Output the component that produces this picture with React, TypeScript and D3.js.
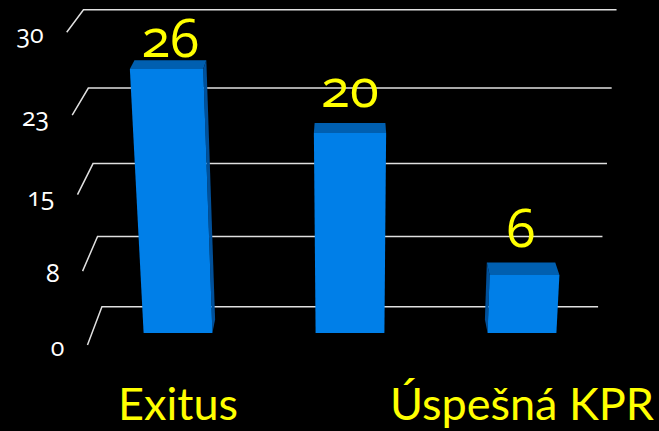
import { useEffect } from "react";
import * as d3 from "d3";

const WIDTH = 659;
const HEIGHT = 431;

const categories = ["Exitus", "", "Úspešná KPR"];
const values = [26, 20, 6];
const tickValues = [0, 7.5, 15, 22.5, 30];
const tickLabels = ["0", "8", "15", "23", "30"];

// perspective camera, tuned to the reference
const CAM_X = 350;
const FLOOR_Y = 333;
const DEPTH_K = 0.02; // denominator change per depth unit
const DEPTH_M = -7; // vertical shift per depth unit
const LIFT_K = 0.0002326; // denominator change per pixel of height
const WALL_Z = 2;
const SIDE_FRONT_Z = -0.86;
const BAR_DEPTH = 1;

const BAR_FRONT = "#007fe8";
const BAR_TOP = "#005fb0";
const BAR_SIDE = "#00509a";
const GRID = "#e0e0e0";
const YELLOW = "#ffff00";

const xScale = d3
  .scaleBand<string>()
  .domain(categories)
  .range([-258, 258])
  .paddingInner(0.6)
  .paddingOuter(0.3);

const yScale = d3.scaleLinear().domain([0, 30]).range([0, 309.6]);

const project = (x: number, v: number, z: number): [number, number] => {
  const lift = yScale(v);
  const d = 1 + DEPTH_K * z - lift * LIFT_K;
  return [CAM_X + x / d, (FLOOR_Y + DEPTH_M * z - lift) / d];
};

const poly = (pts: [number, number][]) =>
  pts.map((p) => `${p[0].toFixed(2)},${p[1].toFixed(2)}`).join(" ");

export default function App() {
  useEffect(() => {
    document.body.style.margin = "0";
    document.body.style.background = "#000";
  }, []);

  const [left, right] = xScale.range();
  const bw = xScale.bandwidth();

  return (
    <svg
      width={WIDTH}
      height={HEIGHT}
      style={{ display: "block", position: "absolute", left: 0, top: 0 }}
    >
      <rect width={WIDTH} height={HEIGHT} fill="#000" />

      {/* gridlines: side wall + back wall */}
      {tickValues.map((t, i) => {
        const a = project(left, t, SIDE_FRONT_Z);
        const b = project(left, t, WALL_Z);
        const c = project(right, t, WALL_Z);
        return (
          <polyline
            key={i}
            points={poly([a, b, c])}
            fill="none"
            stroke={GRID}
            strokeWidth={1.5}
          />
        );
      })}

      {/* tick labels */}
      {tickValues.map((t, i) => {
        const [x, y] = project(left, t, SIDE_FRONT_Z);
        return (
          <text
            key={i}
            x={x - 23}
            y={y + 11}
            textAnchor="end"
            fill="#fff"
            fontSize={25}
            fontFamily="'Open Sans', sans-serif"
            style={{ fontVariantNumeric: "oldstyle-nums" }}
          >
            {tickLabels[i]}
          </text>
        );
      })}

      {/* bars */}
      {categories.map((cat, i) => {
        const v = values[i];
        const x0 = xScale(cat) ?? 0;
        const x1 = x0 + bw;
        const front = [
          project(x0, 0, 0),
          project(x1, 0, 0),
          project(x1, v, 0),
          project(x0, v, 0),
        ];
        const top = [
          project(x0, v, 0),
          project(x1, v, 0),
          project(x1, v, BAR_DEPTH),
          project(x0, v, BAR_DEPTH),
        ];
        const sx = x1 < 0 ? x1 : x0 > 0 ? x0 : null;
        const side =
          sx === null
            ? null
            : [
                project(sx, 0, 0),
                project(sx, 0, BAR_DEPTH),
                project(sx, v, BAR_DEPTH),
                project(sx, v, 0),
              ];
        const [lx, ly] = project(x0 + bw / 2, v, BAR_DEPTH);
        return (
          <g key={i}>
            {side && <polygon points={poly(side)} fill={BAR_SIDE} />}
            <polygon points={poly(top)} fill={BAR_TOP} />
            <polygon points={poly(front)} fill={BAR_FRONT} />
            <text
              x={lx}
              y={Math.max(ly - 16, 57)}
              textAnchor="middle"
              fill={YELLOW}
              fontSize={53}
              fontFamily="'Open Sans', sans-serif"
              style={{ fontVariantNumeric: "oldstyle-nums" }}
            >
              {v}
            </text>
          </g>
        );
      })}

      {/* category labels */}
      {categories.map((cat, i) => {
        const [x] = project((xScale(cat) ?? 0) + bw / 2, 0, 0);
        return (
          <text
            key={i}
            x={x}
            y={420}
            textAnchor="middle"
            fill={YELLOW}
            fontSize={45}
            fontFamily="Lato, sans-serif"
          >
            {cat}
          </text>
        );
      })}
    </svg>
  );
}
